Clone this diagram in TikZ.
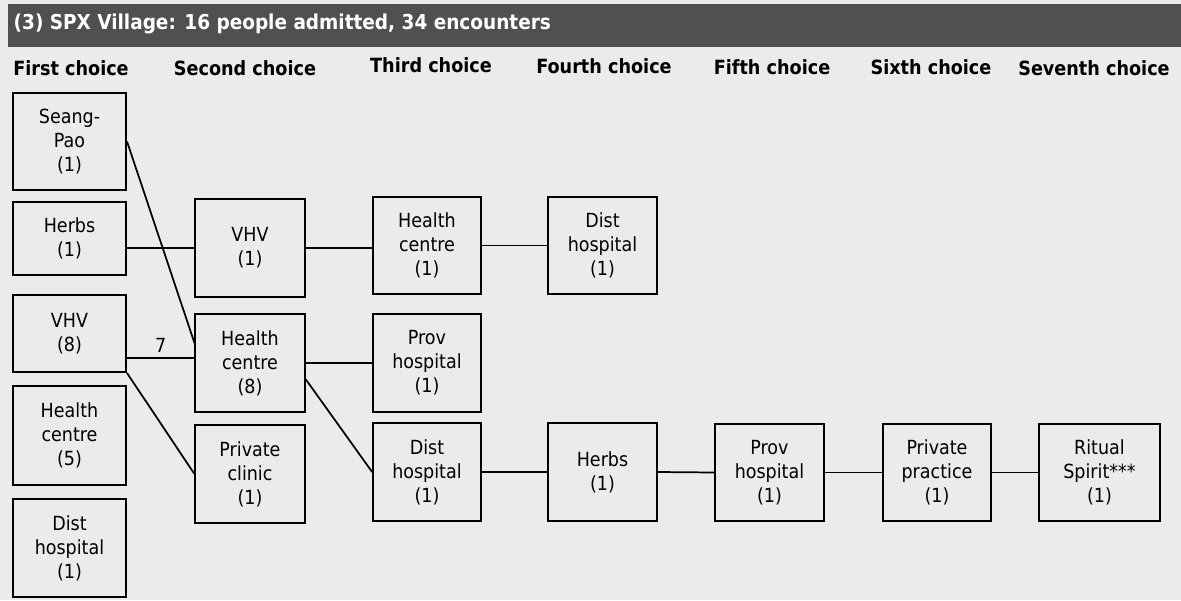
\documentclass[tikz,border=0pt]{standalone}
\usepackage{fontspec}
\setmainfont{DejaVu Sans Condensed}
\usepackage{xcolor}
\usetikzlibrary{positioning}
\definecolor{pagegray}{HTML}{EBEBEB}
\definecolor{bargray}{HTML}{505050}

\begin{document}
\begin{tikzpicture}[x=0.75pt,y=-0.75pt,
    box/.style={draw,line width=1.3pt,align=center,inner sep=0pt,
                minimum width=82pt,minimum height=73pt,
                font=\fontsize{14.6}{18}\selectfont},
    head/.style={font=\fontsize{14.7}{16}\selectfont\bfseries},
    link/.style={line width=1.3pt}]
    \useasboundingbox (0,0) rectangle (1181,600);
    \fill[pagegray] (0,0) rectangle (1181,600);

    % Title bar
    \fill[bargray] (8,4) rectangle (1181,47);
    \node[head,font=\fontsize{15.4}{17}\selectfont\bfseries,text=white,anchor=west] (title) at (9,24) {(3) SPX Village: 16 people admitted, 34 encounters};

    % Column headings
    \node[head] (h1) at (71,68) {First choice};
    \node[head] (h2) at (245,68) {Second choice};
    \node[head] (h3) at (431,65) {Third choice};
    \node[head] (h4) at (604,66) {Fourth choice};
    \node[head] (h5) at (772,67) {Fifth choice};
    \node[head] (h6) at (931,67) {Sixth choice};
    \node[head] (h7) at (1094,68) {Seventh choice};

    % First choice
    \node[box,minimum width=85pt] (seang) at (69.5,141.5) {Seang-\\Pao\\(1)};
    \node[box,minimum width=85pt,minimum height=55pt] (herbsA) at (69.5,238.5) {Herbs\\(1)};
    \node[box,minimum width=85pt,minimum height=58pt] (vhvA) at (69.5,333.5) {VHV\\(8)};
    \node[box,minimum width=85pt,minimum height=74pt] (hcA) at (69.5,435.5) {Health\\centre\\(5)};
    \node[box,minimum width=85pt,minimum height=73.5pt] (distA) at (69.5,548) {Dist\\hospital\\(1)};

    % Second choice
    \node[box] (vhvB) at (250,248) {VHV\\(1)};
    \node[box] (hcB) at (250,363) {Health\\centre\\(8)};
    \node[box] (privB) at (250,474) {Private\\clinic\\(1)};

    % Third choice
    \node[box,minimum width=81pt] (hcC) at (427,245.5) {Health\\centre\\(1)};
    \node[box,minimum width=81pt] (provC) at (427,363) {Prov\\hospital\\(1)};
    \node[box,minimum width=81pt] (distC) at (427,472) {Dist\\hospital\\(1)};

    % Fourth to seventh choice
    \node[box] (distD) at (602.5,245.5) {Dist\\hospital\\(1)};
    \node[box] (herbsD) at (602.5,472) {Herbs\\(1)};
    \node[box] (provE) at (769.5,472.5) {Prov\\hospital\\(1)};
    \node[box,minimum width=81pt] (privF) at (937,472.5) {Private\\practice\\(1)};
    \node[box,minimum width=91pt] (ritualG) at (1099.5,472.5) {Ritual\\Spirit***\\(1)};

    % Links
    \draw[link] (seang.east) -- ([yshift=15pt]hcB.west);
    \draw[link] (vhvB.west) -- (vhvB.west -| herbsA.east);
    \draw[link] (vhvB.east) -- (vhvB.east -| hcC.west);
    \draw[link] ([yshift=4pt]hcB.west) -- ([yshift=4pt]hcB.west -| vhvA.east)
        node[midway,above,font=\fontsize{14.6}{16}\selectfont] (seven) {7};
    \draw[link] (vhvA.south east) -- (privB.west);
    \draw[link] (hcB.east) -- (provC.west);
    \draw[link] ([yshift=-12pt]hcB.east) -- (distC.west);
    \draw[link] (hcC.east) -- (distD.west);
    \draw[link] (distC.east) -- (herbsD.west);
    \draw[link] (herbsD.east) -- (provE.west);
    \draw[link] (provE.east) -- (privF.west);
    \draw[link] (privF.east) -- (ritualG.west);
\end{tikzpicture}
\end{document}
